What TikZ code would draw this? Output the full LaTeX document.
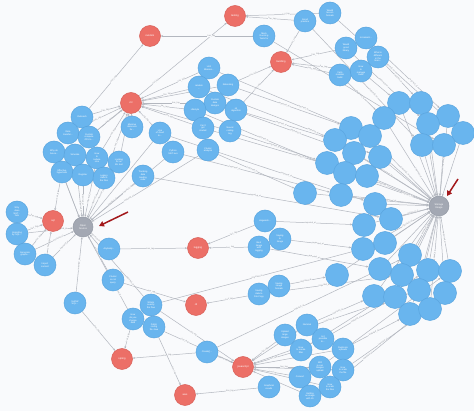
\documentclass[tikz,border=0pt]{standalone}
\usepackage{fontspec}
\setmainfont{Liberation Sans}
\usetikzlibrary{arrows.meta}
\pgfdeclarelayer{back}
\pgfsetlayers{back,main}
\definecolor{bgc}{HTML}{F9FAFC}
\definecolor{nblue}{HTML}{69B5EE}
\definecolor{nbluedk}{HTML}{5AA5DF}
\definecolor{nred}{HTML}{EC6F67}
\definecolor{nreddk}{HTML}{D85F58}
\definecolor{ngray}{HTML}{A3A8B3}
\definecolor{ngraydk}{HTML}{949AA5}
\definecolor{edgec}{HTML}{B3B7BF}
\definecolor{lblc}{HTML}{8C9098}
\definecolor{arrowred}{HTML}{A3181B}
\tikzset{
  qnode/.style={circle, fill=nblue, draw=nbluedk, line width=0.5pt, minimum size=22pt,
    inner sep=0pt, text=white, font=\fontsize{2.3}{2.6}\selectfont, align=center},
  anode/.style={qnode, minimum size=23pt},
  tagnode/.style={circle, fill=nred, draw=nreddk, line width=0.5pt, minimum size=21pt,
    inner sep=0pt, text=white, font=\fontsize{2.6}{3}\selectfont, align=center},
  hubnode/.style={circle, fill=ngray, draw=ngraydk, line width=0.5pt, minimum size=20pt,
    inner sep=0pt, text=white, font=\fontsize{2.5}{2.9}\selectfont, align=center},
  rel/.style={draw=edgec, line width=0.5pt, -{Stealth[length=2.3pt,width=2pt]}},
  rlab/.style={font=\fontsize{2.1}{2.3}\selectfont, text=lblc, fill=bgc, inner sep=0.2pt, sloped},
  bigarrow/.style={draw=arrowred, line width=1.5pt, -{Triangle[length=5pt,width=5.5pt]}}
}
\def\HT{has\_tag}
\def\IA{imported\_at}
\begin{document}
\begin{tikzpicture}[x=1pt,y=-1pt]
\begin{pgfonlayer}{back}
\fill[bgc] (0,0) rectangle (474,411);
\end{pgfonlayer}
\useasboundingbox (0,0) rectangle (474,411);
% tags
\node[tagnode] (rT) at (235,16) {testing};
\node[tagnode] (rR) at (150,36) {random};
\node[tagnode] (rB) at (281,62) {building};
\node[tagnode] (rM) at (131,103) {ml};
\node[tagnode] (rS) at (53,221) {sql};
\node[tagnode] (rL) at (198,248) {logging};
\node[tagnode] (rC) at (196,305) {cli};
\node[tagnode] (rSp) at (122,359) {spring};
\node[tagnode] (rJ) at (243,367) {javascript};
\node[tagnode] (rA) at (185,395) {aws};
% hubs
\node[hubnode] (hO) at (83,227) {Open\\Source};
\node[hubnode] (hS) at (439,206) {Storage\\Image};
% top questions
\node[qnode] (t1) at (330,13) {Would\\lesson\\formats};
\node[qnode] (t2) at (305,21) {Good\\practice};
\node[qnode] (t3) at (264,36) {Mock\\Running\\Tests for};
\node[qnode] (t4) at (366,38) {Increment...};
\node[qnode] (t5) at (346,48) {Would\\good\\library};
\node[qnode] (t6) at (378,57) {What is\\different\\in the\\lines...};
\node[qnode] (t7) at (361,71) {How\\to\\manage\\build};
\node[qnode] (t8) at (340,75) {Fails\\modular\\build};
% middle upper
\node[qnode] (m1) at (209,68) {Unit\\libraries...};
\node[qnode] (m2) at (199,87) {random\\...};
\node[qnode] (m3) at (228,85) {Rebooting};
\node[qnode] (m4) at (215,103) {Custom\\data\\designs};
\node[qnode] (m5) at (195,110) {Lifestyle};
\node[qnode] (m6) at (236,110) {ml\\algorithm};
\node[qnode] (m7) at (203,128) {Can't\\get\\started};
\node[qnode] (m8) at (230,131) {Neural\\coding\\log};
\node[qnode] (m9) at (208,150) {Cluster\\analysis};
\node[qnode] (m10) at (173,152) {Python\\SKIT-avs};
% left
\node[qnode] (a1) at (82,117) {Outreach};
\node[qnode] (a2) at (68,133) {Data\\transfer...};
\node[qnode] (a3) at (89,137) {Custom\\compute\\ZFS to...};
\node[qnode] (a4) at (132,127) {Massive\\data sets\\for...};
\node[qnode] (a5) at (160,133) {Use\\of cloud\\to...};
\node[qnode] (a6) at (54,152) {Why do\\Azure...};
\node[qnode] (a7) at (75,155) {Simulate};
\node[qnode] (a8) at (97,158) {How\\to\\reduce\\size};
\node[qnode] (a9) at (119,162) {Looking\\for an\\ML tool};
\node[qnode] (a10) at (62,172) {Effective\\hyperbolic};
\node[qnode] (a11) at (83,175) {Register};
\node[qnode] (a12) at (104,178) {Legacy\\data to\\the files};
\node[qnode] (a13) at (143,176) {Tracking\\data\\loading\\code};
\node[qnode] (a14) at (17,212) {Why\\does\\NGT...\\fails};
\node[qnode] (a15) at (17,234) {Importing\\by SQL...};
\node[qnode] (a16) at (25,254) {Generate\\graphs...};
\node[qnode] (a17) at (45,265) {Import\\content};
\node[qnode] (a18) at (109,249) {Anybody...};
\node[qnode] (a19) at (113,280) {Cluster\\or not\\query};
\node[qnode] (a20) at (75,303) {SHOW\\SQL...};
\node[qnode] (a21) at (151,305) {Whats\\exactly\\the flow};
\node[qnode] (a22) at (133,319) {How\\do you\\change\\data};
\node[qnode] (a23) at (154,327) {Public\\config\\file Java};
\node[qnode] (a24) at (207,352) {Create()...};
% centre
\node[qnode] (c1) at (265,221) {Hogwarts...};
\node[qnode] (c2) at (280,239) {Saying\\to\\Image};
\node[qnode] (c3) at (259,247) {Best\\Image\\with\\logging};
\node[qnode] (c4) at (279,286) {Saving\\image\\formats};
\node[qnode] (c5) at (259,294) {Saving\\data to\\File Copy};
% lower right
\node[qnode] (b1) at (307,325) {Nominal};
\node[qnode] (b2) at (285,335) {Upload\\large\\images};
\node[qnode] (b3) at (323,339) {Is it\\possible\\to...};
\node[qnode] (b4) at (301,350) {How\\to create\\filter};
\node[qnode] (b5) at (343,349) {Duplicate\\uploads};
\node[qnode] (b6) at (320,367) {Will\\js-can\\images\\upload};
\node[qnode] (b7) at (343,370) {How\\to scale\\the file};
\node[qnode] (b8) at (300,377) {Convert};
\node[qnode] (b9) at (269,387) {Graphical\\results};
\node[qnode] (b10) at (330,387) {How\\to scale\\the files};
\node[qnode] (b11) at (310,396) {Getting\\an image\\with JS};
% unlabeled
\foreach \n/\x/\y in {U1/399/103,U2/421/103,U3/448/116,U4/384/118,U5/428/124,U6/351/128,
  U7/370/136,U8/463/133,U9/335/140,U10/422/145,U11/444/145,U12/354/153,U13/380/157,
  U14/327/163,U15/345/173,U16/367/176,U17/305/193,U18/341/195,U19/375/204,
  L1/391/219,L2/364/225,L3/385/243,L4/363/249,L5/410/255,L6/380/269,L7/428/270,
  L8/450/271,L9/402/275,L10/337/275,L11/374/296,L12/395/297,L13/419/290,L14/445/293,
  L15/410/314,L16/430/309}
  {\node[anode] (\n) at (\x,\y) {};}
% arrows
\coordinate (pO1) at (128,212);
\coordinate (pO2) at (99,226);
\coordinate (pS1) at (458,179);
\coordinate (pS2) at (447,196);
\draw[bigarrow] (pO1) -- (pO2);
\draw[bigarrow] (pS1) -- (pS2);
\begin{pgfonlayer}{back}
% has_tag, labelled
\foreach \a/\b/\p in {a1/rR/.45,a1/rM/.45,a2/rM/.45,a3/rM/.45,a5/rM/.45,a8/rM/.45,a12/rM/.45,
  m1/rM/.3,m2/rM/.45,m4/rM/.45,m5/rM/.45,m7/rM/.45,a3/rT/.45,t3/rR/.45,t2/rT/.45,t1/rT/.45,
  t2/rB/.45,t5/rB/.45,t8/rB/.45,t7/rB/.45,m3/rB/.45,m6/rB/.45,a10/rS/.45,a14/rS/.45,
  a15/rS/.45,a16/rS/.45,a17/rS/.45,a18/rL/.45,c1/rL/.45,c3/rL/.45,a19/rC/.45,c5/rC/.45,
  a20/rSp/.45,a22/rSp/.45,a24/rSp/.45,a24/rJ/.45,a21/rJ/.45,a23/rJ/.3,b2/rJ/.45,b4/rJ/.45,
  b6/rJ/.45,b8/rJ/.45,a23/rA/.7,b9/rA/.45}
  {\draw[rel] (\a) -- node[rlab, pos=\p]{\HT} (\b);}
% has_tag, label hidden behind nodes
\foreach \a/\b in {a4/rM,a9/rM,m3/rM,m8/rM,b1/rJ,b3/rJ,b11/rJ,b5/rJ,b7/rJ,b10/rJ}
  {\draw[rel] (\a) -- (\b);}
% Open Source hub
\foreach \a/\p in {a7/.8,a8/.6,a9/.5,a11/.45,a12/.4,a13/.5,m10/.5,m9/.65,a15/.75,a16/.6,
  a17/.5,a18/.5,a19/.5,a20/.5,a21/.25,a22/.25}
  {\draw[rel] (\a) -- node[rlab, pos=\p]{\IA} (hO);}
\foreach \a in {a5,a6,a10}
  {\draw[rel] (\a) -- (hO);}
% Storage Image hub
\foreach \a/\p in {U14/.5,U9/.5,U18/.5,L2/.7,L4/.6,U15/.7,U7/.5,U4/.65,U3/.5,L8/.5,
  L16/.5,L5/.5}
  {\draw[rel] (\a) -- node[rlab, pos=\p]{\IA} (hS);}
\foreach \a in {U1,U2,U5,U6,U8,U10,U11,U12,U13,U16,U17,U19,L1,L3,L6,L7,L9,L10,L11,L12,
  L13,L14,L15}
  {\draw[rel] (\a) -- (hS);}
% long links
\foreach \a/\b/\p in {m6/U9/.45,m3/U6/.45,m4/U12/.6,m8/U14/.45,m9/U17/.45,m10/U18/.35,
  m5/U15/.45,m7/U16/.6,m1/U7/.6,m2/U13/.65,t8/U4/.45,t5/U5/.45,t6/U2/.45,t4/U3/.6,
  t1/U8/.45,t2/U10/.6,a5/U19/.6,a13/L1/.45,c1/L2/.45,c2/L4/.45,c3/L6/.45,
  c4/L10/.45,c5/L9/.45,b1/L11/.45,b3/L12/.45,b5/L15/.45,b7/L16/.45,b10/L14/.3,b2/L13/.3,
  a24/L5/.45,a21/L3/.45}
  {\draw[rel] (\a) -- node[rlab, pos=\p]{\IA} (\b);}
\foreach \a/\b in {t7/U1,b4/L7,b6/L8,t3/U11}
  {\draw[rel] (\a) -- (\b);}
\end{pgfonlayer}
\end{tikzpicture}
\end{document}
